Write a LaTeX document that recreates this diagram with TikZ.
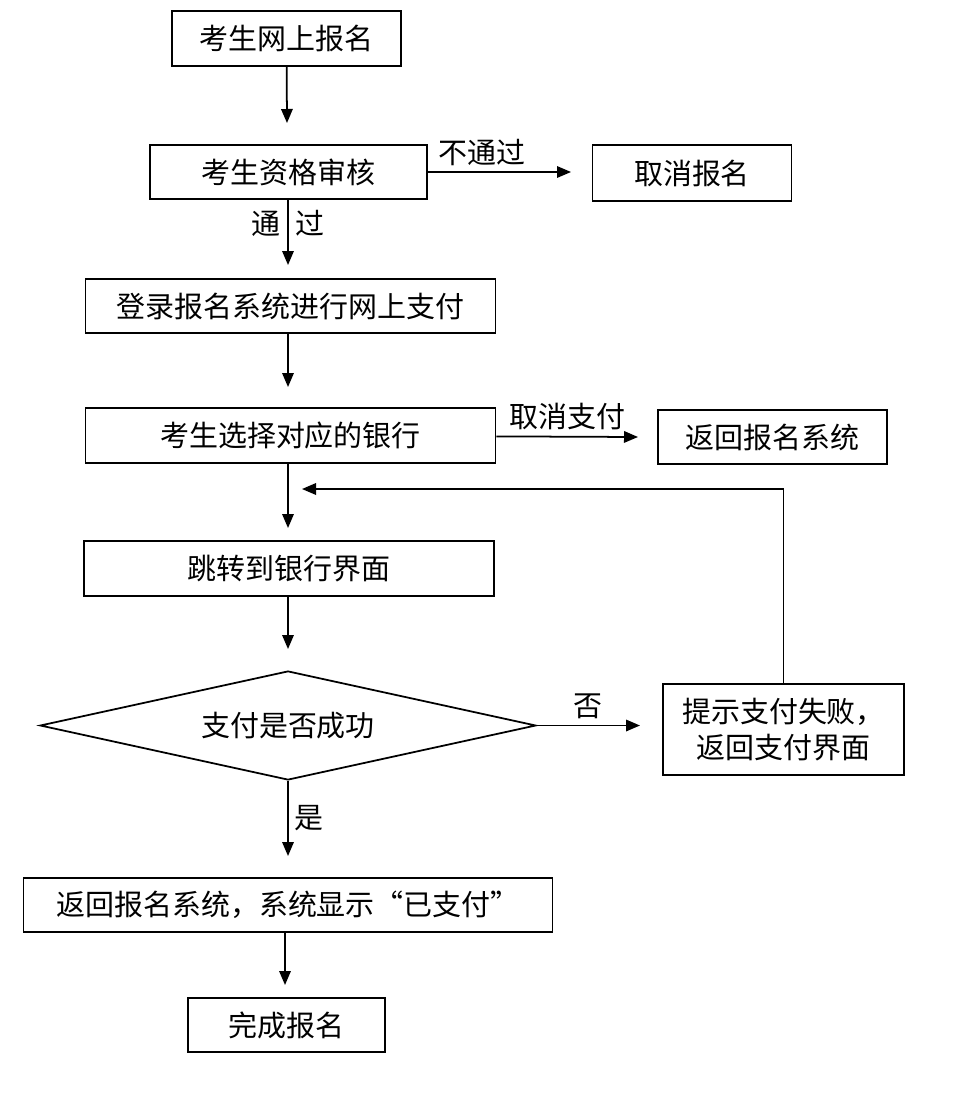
\documentclass[tikz,border=0pt]{standalone}
\usepackage{fontspec}
\newfontfamily\cjk{Noto Sans CJK SC}
\usetikzlibrary{shapes.geometric,arrows.meta}

\begin{document}
\begin{tikzpicture}[x=0.02cm, y=-0.02cm,
    font=\cjk\fontsize{16.5}{20}\selectfont,
    box/.style={draw, line width=1pt, inner sep=0pt, align=center},
    >={Triangle[length=2.8mm, width=2.3mm]}]
    \useasboundingbox (0,0) rectangle (953,1095);

    \node[box, minimum width=4.58cm, minimum height=1.1cm] (Apply) at (286.5,38.5) {考生网上报名};
    \node[box, minimum width=5.54cm, minimum height=1.08cm] (Check) at (288.5,172) {考生资格审核};
    \node[box, minimum width=3.98cm, minimum height=1.12cm] (Cancel) at (692,173) {取消报名};
    \node[box, minimum width=8.2cm, minimum height=1.08cm] (Login) at (290.5,306) {登录报名系统进行网上支付};
    \node[box, minimum width=8.2cm, minimum height=1.1cm] (Bank) at (290.5,435.5) {考生选择对应的银行};
    \node[box, minimum width=4.58cm, minimum height=1.08cm] (Back) at (772.5,437) {返回报名系统};
    \node[box, minimum width=8.2cm, minimum height=1.1cm] (Jump) at (289,568.5) {跳转到银行界面};
    \node[box, diamond, aspect=4.55, minimum width=9.92cm, minimum height=2.18cm] (PayOK) at (288,725.5) {支付是否成功};
    \node[box, minimum width=4.82cm, minimum height=1.82cm] (Fail) at (783.5,729.5) {提示支付失败，\\返回支付界面};
    \node[box, minimum width=10.58cm, minimum height=1.08cm] (Paid) at (288,905) {返回报名系统，系统显示“已支付”};
    \node[box, minimum width=3.94cm, minimum height=1.08cm] (Done) at (286.5,1025) {完成报名};

    \coordinate (Check_In) at (287,123);
    \coordinate (Cancel_In) at (571,172);
    \coordinate (Login_In) at (288,265);
    \coordinate (Bank_In) at (288,387);
    \coordinate (Back_In) at (638,437);
    \coordinate (Jump_In) at (288,528);
    \coordinate (PayOK_In) at (288,649);
    \coordinate (Fail_In) at (640,725.5);
    \coordinate (Paid_In) at (288,856);
    \coordinate (Done_In) at (285,985);
    \coordinate (Loop_End) at (302,489);

    %Lines
    \draw[->, line width=1pt] (Apply) -- (Check_In);

    \draw[->, line width=1pt] (Check) -- (Cancel_In)
       node[pos=0.38, above]
       {不通过};
    \draw[->, line width=1pt] (Check.south -| Login_In) -- (Login_In)
       node[pos=0.36]
       {通\hspace{0.5em}过};

    \draw[->, line width=1pt] (Login.south -| Bank_In) -- (Bank_In);

    \draw[->, line width=1pt] (Bank) -- (Back_In)
       node[midway, above]
       {取消支付};
    \draw[->, line width=1pt] (Bank.south -| Jump_In) -- (Jump_In);

    \draw[->, line width=1pt] (Jump.south -| PayOK_In) -- (PayOK_In);

    \draw[->, line width=1pt] (PayOK) -- (Fail_In)
       node[midway, above]
       {否};
    \draw[->, line width=1pt] (PayOK) -- (Paid_In)
       node[midway, right]
       {是};

    \draw[->, line width=1pt] (Fail.north) |- (Loop_End);

    \draw[->, line width=1pt] (Paid.south -| Done_In) -- (Done_In);
\end{tikzpicture}
\end{document}
